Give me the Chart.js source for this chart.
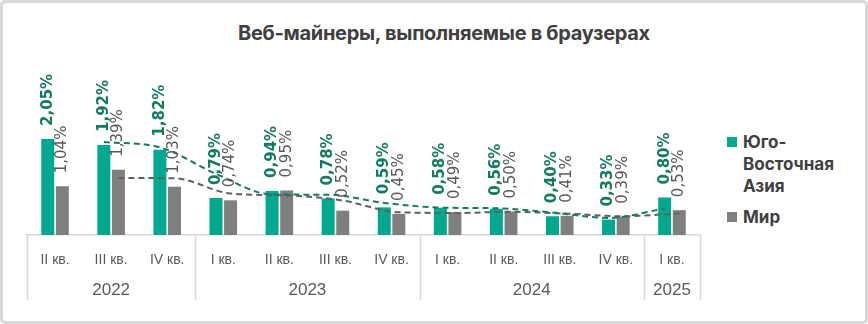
<!DOCTYPE html>
<html>
<head>
<meta charset="utf-8">
<script src="https://cdn.jsdelivr.net/npm/chart.js@4.4.1/dist/chart.umd.min.js"></script>
<style>
  body { margin: 0; background: #fff; }
  #wrap { position: relative; width: 868px; height: 324px; overflow: hidden; }
  #frame { position: absolute; left: 0; top: 0; width: 868px; height: 324px; box-sizing: border-box;
           border: 3px solid #d9d9d9; border-radius: 5px; }
  #title { position: absolute; left: 214px; width: 460px; top: 21px; text-align: center;
           font: 700 20px Inter, sans-serif; color: #404040; letter-spacing: -0.3px; white-space: nowrap; }
  .leg { position: absolute; left: 727px; font: 700 17px Inter, sans-serif; color: #404040; line-height: 22px; }
  .leg i { position: absolute; left: 0; top: 6px; width: 10px; height: 10px; }
  .leg span { display: block; padding-left: 16px; }
  canvas { position: absolute; left: 0; top: 0; }
</style>
</head>
<body>
<div id="wrap">
  <div id="frame"></div>
  <div id="title">Веб-майнеры, выполняемые в браузерах</div>
  <div class="leg" style="top:131px"><i style="background:#00a88e"></i><span>Юго-<br>Восточная<br>Азия</span></div>
  <div class="leg" style="top:206px"><i style="background:#7f7f7f"></i><span>Мир</span></div>
  <canvas id="chart" width="868" height="324"></canvas>
</div>
<script>
// quarters and the year each belongs to
const quarters = ['II кв.', 'III кв.', 'IV кв.', 'I кв.', 'II кв.', 'III кв.', 'IV кв.',
                  'I кв.', 'II кв.', 'III кв.', 'IV кв.', 'I кв.'];
const years = ['2022', '2023', '2024', '2025'];
const yearSizes = [3, 4, 4, 1];

// share of detections, %
const seAsia = [2.05, 1.92, 1.82, 0.79, 0.94, 0.78, 0.59, 0.58, 0.56, 0.40, 0.33, 0.80];
const world  = [1.04, 1.39, 1.03, 0.74, 0.95, 0.52, 0.45, 0.49, 0.50, 0.41, 0.39, 0.53];

// 2-period moving average trend lines (as drawn in the source)
const seAsiaTrend = [null, 1.985, 1.87, 1.305, 0.865, 0.86, 0.685, 0.585, 0.57, 0.48, 0.365, 0.565];
const worldTrend  = [null, 1.215, 1.21, 0.885, 0.845, 0.735, 0.485, 0.47, 0.495, 0.455, 0.40, 0.46];

const GREEN = '#00a88e', GREEN_TXT = '#137a63', GRAY = '#7f7f7f', GRAY_TXT = '#595959';

// each trend line sits over the centres of its own series' bars
const trendShift = {
  id: 'trendShift',
  beforeDatasetDraw(chart, args) {
    if (args.index < 2) return;
    const bars = chart.getDatasetMeta(args.index - 2).data;
    const dx = bars[1].x - chart.scales.x.getPixelForValue(1);
    chart.ctx.save();
    chart.ctx.translate(dx, 0);
  },
  afterDatasetDraw(chart, args) {
    if (args.index >= 2) chart.ctx.restore();
  }
};

// rotated value labels above the bars
const barLabels = {
  id: 'barLabels',
  afterDatasetsDraw(chart) {
    const ctx = chart.ctx;
    [0, 1].forEach(di => {
      const meta = chart.getDatasetMeta(di);
      const vals = chart.data.datasets[di].data;
      meta.data.forEach((bar, i) => {
        ctx.save();
        ctx.translate(bar.x, bar.y - 13);
        ctx.rotate(-Math.PI / 2);
        ctx.textAlign = 'left';
        ctx.textBaseline = 'middle';
        ctx.font = di === 0 ? 'bold 15px "DejaVu Sans"' : '15px "DejaVu Sans"';
        ctx.fillStyle = di === 0 ? GREEN_TXT : GRAY_TXT;
        ctx.fillText(vals[i].toFixed(2).replace('.', ',') + '%', 0, 0);
        ctx.restore();
      });
    });
  }
};

// year groups under the quarter labels
const yearAxis = {
  id: 'yearAxis',
  afterDraw(chart) {
    const ctx = chart.ctx;
    const xs = chart.scales.x;
    const area = chart.chartArea;
    const edge = i => i <= 0 ? area.left : i >= quarters.length ? area.right
      : (xs.getPixelForTick(i - 1) + xs.getPixelForTick(i)) / 2;
    ctx.save();
    ctx.strokeStyle = '#d9d9d9';
    ctx.lineWidth = 1.5;
    ctx.fillStyle = GRAY_TXT;
    ctx.font = '17px "Liberation Sans"';
    ctx.textAlign = 'center';
    ctx.textBaseline = 'middle';
    let start = 0;
    const bounds = [0];
    yearSizes.forEach((n, k) => {
      const x0 = edge(start), x1 = edge(start + n);
      ctx.fillText(years[k], (x0 + x1) / 2, 290);
      start += n;
      bounds.push(start);
    });
    bounds.forEach(b => {
      const x = Math.round(edge(b)) + 0.5;
      ctx.beginPath();
      ctx.moveTo(x, area.bottom);
      ctx.lineTo(x, 300);
      ctx.stroke();
    });
    ctx.restore();
  }
};

new Chart(document.getElementById('chart'), {
  type: 'bar',
  data: {
    labels: quarters,
    datasets: [
      { type: 'bar', label: 'Юго-Восточная Азия', data: seAsia, backgroundColor: GREEN,
        categoryPercentage: 0.52, barPercentage: 0.89, order: 2 },
      { type: 'bar', label: 'Мир', data: world, backgroundColor: GRAY,
        categoryPercentage: 0.52, barPercentage: 0.89, order: 2 },
      { type: 'line', data: seAsiaTrend,
        borderColor: '#157a62', borderWidth: 2, borderDash: [6, 4], pointRadius: 0,
        cubicInterpolationMode: 'monotone', order: 1 },
      { type: 'line', data: worldTrend,
        borderColor: '#5f5f5f', borderWidth: 2, borderDash: [6, 4], pointRadius: 0,
        cubicInterpolationMode: 'monotone', order: 1 }
    ]
  },
  options: {
    responsive: false,
    animation: false,
    layout: { padding: { left: 27, right: 168, top: 40, bottom: 0 } },
    plugins: { legend: { display: false }, tooltip: { enabled: false } },
    scales: {
      x: {
        grid: { display: false },
        border: { color: '#d9d9d9', width: 1.5 },
        ticks: { color: GRAY_TXT, font: { family: 'Liberation Sans', size: 14 }, padding: 9,
                 maxRotation: 0, autoSkip: false },
        afterFit: s => { s.height = 89; }
      },
      y: { display: false, min: 0, max: 4.16 }
    }
  },
  plugins: [trendShift, barLabels, yearAxis]
});
</script>
</body>
</html>
